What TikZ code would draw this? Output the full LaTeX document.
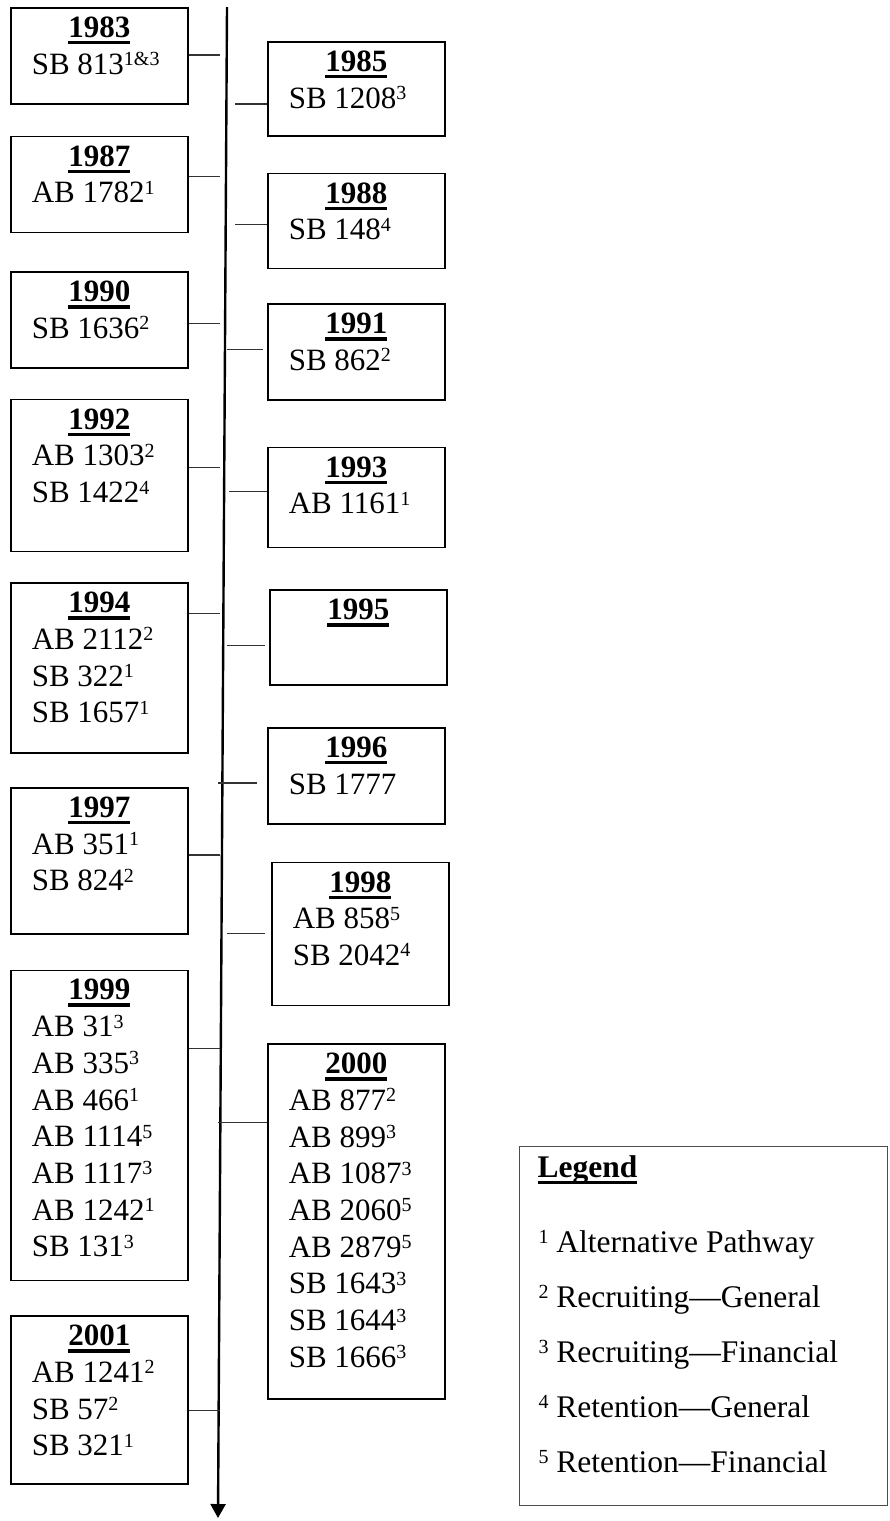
\documentclass[tikz,border=0pt]{standalone}
\usepackage{fontspec}
\setmainfont{Liberation Serif}
\usetikzlibrary{positioning,arrows.meta}

\newcommand{\fnote}[1]{\raisebox{8.5pt}{\fontsize{20}{20}\selectfont #1}}
\newcommand{\yearline}[1]{\leavevmode\setbox0\hbox{\bfseries #1}\rlap{\rule[-7pt]{\wd0}{3.5pt}}\box0}
\newcommand{\yeartext}[3]{\parbox[c][#1pt][t]{177pt}{\vspace*{9pt}\centering\yearline{#2}\par
  \raggedright\leftskip=21pt #3\par}}

\begin{document}
\begin{tikzpicture}[
  x=1pt, y=-1pt,
  yearbox/.style={draw=black, line width=1.6pt, inner sep=0pt, fill=white,
    font=\fontsize{31}{36.7}\selectfont},
  tick/.style={draw=black!80, line width=1.2pt},
  axis/.style={draw=black, line width=2.4pt, -{Triangle[width=15pt,length=14pt]}},
  legendbox/.style={draw=black!70, line width=1.2pt, inner sep=0pt,
    font=\fontsize{31.5}{55}\selectfont}
  ]

  \useasboundingbox (0,0) rectangle (890,1521);

  % time line
  \coordinate (axtop) at (227,7);
  \coordinate (axend) at (218,1518);
  \path [axis] (axtop) -- (axend) ;

  % left column
  \node (y1983) [yearbox, anchor=north west] at (10,7)
    {\yeartext{96}{1983}{SB 813\fnote{1\&3}}};
  \node (y1987) [yearbox, below right=31pt and 0pt of y1983.south west]
    {\yeartext{96}{1987}{AB 1782\fnote{1}}};
  \node (y1990) [yearbox, below right=38pt and 0pt of y1987.south west]
    {\yeartext{96}{1990}{SB 1636\fnote{2}}};
  \node (y1992) [yearbox, below right=30pt and 0pt of y1990.south west]
    {\yeartext{152}{1992}{AB 1303\fnote{2}\\SB 1422\fnote{4}}};
  \node (y1994) [yearbox, below right=30pt and 0pt of y1992.south west]
    {\yeartext{170}{1994}{AB 2112\fnote{2}\\SB 322\fnote{1}\\SB 1657\fnote{1}}};
  \node (y1997) [yearbox, below right=33pt and 0pt of y1994.south west]
    {\yeartext{146}{1997}{AB 351\fnote{1}\\SB 824\fnote{2}}};
  \node (y1999) [yearbox, below right=35pt and 0pt of y1997.south west]
    {\yeartext{310}{1999}{AB 31\fnote{3}\\AB 335\fnote{3}\\AB 466\fnote{1}\\AB 1114\fnote{5}\\
      AB 1117\fnote{3}\\AB 1242\fnote{1}\\SB 131\fnote{3}}};
  \node (y2001) [yearbox, below right=34pt and 0pt of y1999.south west]
    {\yeartext{168}{2001}{AB 1241\fnote{2}\\SB 57\fnote{2}\\SB 321\fnote{1}}};

  % right column
  \node (y1985) [yearbox, anchor=north west] at (267,41)
    {\yeartext{94}{1985}{SB 1208\fnote{3}}};
  \node (y1988) [yearbox, below right=36pt and 0pt of y1985.south west]
    {\yeartext{95}{1988}{SB 148\fnote{4}}};
  \node (y1991) [yearbox, below right=34pt and 0pt of y1988.south west]
    {\yeartext{96}{1991}{SB 862\fnote{2}}};
  \node (y1993) [yearbox, below right=46pt and 0pt of y1991.south west]
    {\yeartext{100}{1993}{AB 1161\fnote{1}}};
  \node (y1995) [yearbox, below right=41pt and 2pt of y1993.south west]
    {\yeartext{95}{1995}{}};
  \node (y1996) [yearbox, below right=41pt and -2pt of y1995.south west]
    {\yeartext{96}{1996}{SB 1777}};
  \node (y1998) [yearbox, below right=37pt and 4pt of y1996.south west]
    {\yeartext{143}{1998}{AB 858\fnote{5}\\SB 2042\fnote{4}}};
  \node (y2000) [yearbox, below right=37pt and -4pt of y1998.south west]
    {\yeartext{355}{2000}{AB 877\fnote{2}\\AB 899\fnote{3}\\AB 1087\fnote{3}\\AB 2060\fnote{5}\\
      AB 2879\fnote{5}\\SB 1643\fnote{3}\\SB 1644\fnote{3}\\SB 1666\fnote{3}}};

  % ticks to the time line
  \foreach \yr/\dy in {1983/48, 1987/41, 1990/52, 1992/69, 1994/31, 1997/68, 1999/79, 2001/95}
    \path [tick] ([yshift=-\dy pt]y\yr.north east) -- ++(31,0) ;
  \foreach \yr/\dy/\gap/\len in {1985/63/0/32, 1988/52/0/32, 1991/46/4/36, 1993/45/0/38,
      1995/56/4/38, 1996/56/10/39, 1998/72/6/38, 2000/79/0/49}
    \path [tick] ([xshift=-\gap pt, yshift=-\dy pt]y\yr.north west) -- ++(-\len,0) ;

  % legend
  \node (legend) [legendbox, anchor=north west] at (519,1146)
    {\parbox[c][359pt][t]{368pt}{\vspace*{9pt}\hspace*{18pt}\yearline{Legend}\par
      \vspace{20pt}\leftskip=19pt
      \fnote{1} Alternative Pathway\\
      \fnote{2} Recruiting\textemdash General\\
      \fnote{3} Recruiting\textemdash Financial\\
      \fnote{4} Retention\textemdash General\\
      \fnote{5} Retention\textemdash Financial\par}};
\end{tikzpicture}
\end{document}
